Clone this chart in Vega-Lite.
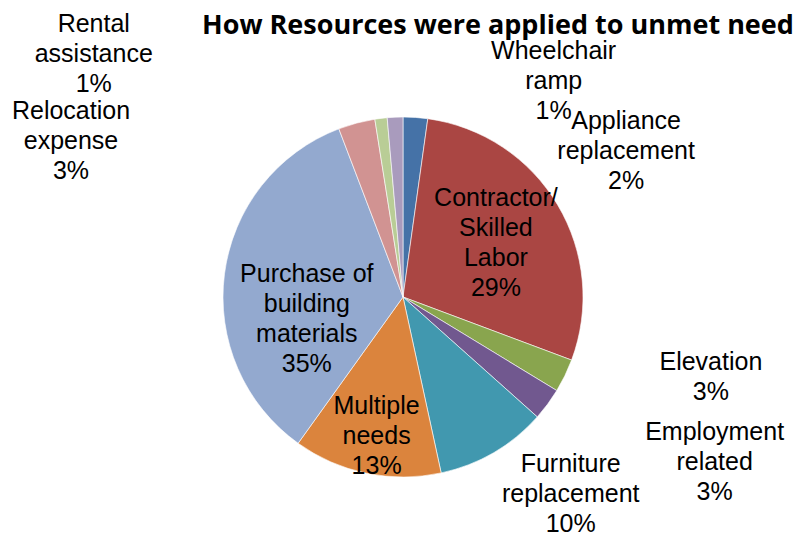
{
  "$schema": "https://vega.github.io/schema/vega-lite/v6.json",
  "autosize": {"type": "none"},
  "padding": {"left": 11, "top": 57, "right": 0, "bottom": 0},
  "width": 784,
  "height": 480,
  "background": "white",
  "title": {
    "text": "How Resources were applied  to unmet need",
    "font": "Open Sans",
    "fontSize": 27,
    "fontWeight": "bold",
    "color": "#000000",
    "anchor": "start",
    "frame": "group",
    "baseline": "alphabetic",
    "offset": 24,
    "dx": 191,
    "dy": 73
  },
  "config": {"view": {"stroke": null}},
  "data": {
    "values": [
      {"cat": "Appliance replacement", "value": 2.2, "label": "Appliance\nreplacement\n2%", "order": 1},
      {"cat": "Contractor/Skilled Labor", "value": 28.5, "label": "Contractor/\nSkilled\nLabor\n29%", "order": 2},
      {"cat": "Elevation", "value": 3.0, "label": "Elevation\n3%", "order": 3},
      {"cat": "Employment related", "value": 2.9, "label": "Employment\nrelated\n3%", "order": 4},
      {"cat": "Furniture replacement", "value": 10.0, "label": "Furniture\nreplacement\n10%", "order": 5},
      {"cat": "Multiple needs", "value": 13.3, "label": "Multiple\nneeds\n13%", "order": 6},
      {"cat": "Purchase of building materials", "value": 34.3, "label": "Purchase of\nbuilding\nmaterials\n35%", "order": 7},
      {"cat": "Relocation expense", "value": 3.3, "label": "Relocation\nexpense\n3%", "order": 8},
      {"cat": "Rental assistance", "value": 1.1, "label": "Rental\nassistance\n1%", "order": 9},
      {"cat": "Wheelchair ramp", "value": 1.4, "label": "Wheelchair\nramp\n1%", "order": 10}
    ]
  },
  "transform": [
    {"window": [{"op": "sum", "field": "value", "as": "cum"}], "sort": [{"field": "order", "order": "ascending"}], "frame": [null, 0]},
    {"calculate": "datum.cum - datum.value / 2", "as": "mid"}
  ],
  "layer": [
    {
      "mark": {"type": "arc", "outerRadius": 180, "stroke": "#ffffff", "strokeWidth": 0.6},
      "encoding": {
        "theta": {"field": "value", "type": "quantitative", "stack": true, "scale": {"domain": [0, 100]}},
        "order": {"field": "order", "type": "quantitative"},
        "color": {
          "field": "cat", "type": "nominal", "legend": null,
          "scale": {
            "domain": ["Appliance replacement", "Contractor/Skilled Labor", "Elevation", "Employment related", "Furniture replacement", "Multiple needs", "Purchase of building materials", "Relocation expense", "Rental assistance", "Wheelchair ramp"],
            "range": ["#4572A7", "#AA4643", "#89A54E", "#71588F", "#4198AF", "#DB843D", "#93A9CF", "#D19392", "#B9CD96", "#A99BBD"]
          }
        }
      }
    },
    {
      "transform": [{"filter": "datum.cat === 'Appliance replacement'"}],
      "mark": {"type": "text", "radius": 190, "dx": 210, "dy": 14, "font": "Liberation Sans", "fontSize": 25, "lineBreak": "\n", "lineHeight": 30, "align": "center", "baseline": "middle", "color": "#000000"},
      "encoding": {"theta": {"field": "mid", "type": "quantitative", "stack": null, "scale": {"domain": [0, 100]}}, "text": {"field": "label"}}
    },
    {
      "transform": [{"filter": "datum.cat === 'Contractor/Skilled Labor'"}],
      "mark": {"type": "text", "radius": 107, "dx": 1, "dy": -44, "font": "Liberation Sans", "fontSize": 25, "lineBreak": "\n", "lineHeight": 30, "align": "center", "baseline": "middle", "color": "#000000"},
      "encoding": {"theta": {"field": "mid", "type": "quantitative", "stack": null, "scale": {"domain": [0, 100]}}, "text": {"field": "label"}}
    },
    {
      "transform": [{"filter": "datum.cat === 'Elevation'"}],
      "mark": {"type": "text", "radius": 190, "dx": 137, "dy": -18, "font": "Liberation Sans", "fontSize": 25, "lineBreak": "\n", "lineHeight": 30, "align": "center", "baseline": "middle", "color": "#000000"},
      "encoding": {"theta": {"field": "mid", "type": "quantitative", "stack": null, "scale": {"domain": [0, 100]}}, "text": {"field": "label"}}
    },
    {
      "transform": [{"filter": "datum.cat === 'Employment related'"}],
      "mark": {"type": "text", "radius": 190, "dx": 159, "dy": 22, "font": "Liberation Sans", "fontSize": 25, "lineBreak": "\n", "lineHeight": 30, "align": "center", "baseline": "middle", "color": "#000000"},
      "encoding": {"theta": {"field": "mid", "type": "quantitative", "stack": null, "scale": {"domain": [0, 100]}}, "text": {"field": "label"}}
    },
    {
      "transform": [{"filter": "datum.cat === 'Furniture replacement'"}],
      "mark": {"type": "text", "radius": 190, "dx": 72, "dy": 3, "font": "Liberation Sans", "fontSize": 25, "lineBreak": "\n", "lineHeight": 30, "align": "center", "baseline": "middle", "color": "#000000"},
      "encoding": {"theta": {"field": "mid", "type": "quantitative", "stack": null, "scale": {"domain": [0, 100]}}, "text": {"field": "label"}}
    },
    {
      "transform": [{"filter": "datum.cat === 'Multiple needs'"}],
      "mark": {"type": "text", "radius": 140, "dx": 2, "dy": -28, "font": "Liberation Sans", "fontSize": 25, "lineBreak": "\n", "lineHeight": 30, "align": "center", "baseline": "middle", "color": "#000000"},
      "encoding": {"theta": {"field": "mid", "type": "quantitative", "stack": null, "scale": {"domain": [0, 100]}}, "text": {"field": "label"}}
    },
    {
      "transform": [{"filter": "datum.cat === 'Purchase of building materials'"}],
      "mark": {"type": "text", "radius": 99, "dx": 2, "dy": -10, "font": "Liberation Sans", "fontSize": 25, "lineBreak": "\n", "lineHeight": 30, "align": "center", "baseline": "middle", "color": "#000000"},
      "encoding": {"theta": {"field": "mid", "type": "quantitative", "stack": null, "scale": {"domain": [0, 100]}}, "text": {"field": "label"}}
    },
    {
      "transform": [{"filter": "datum.cat === 'Relocation expense'"}],
      "mark": {"type": "text", "radius": 190, "dx": -283, "dy": -2, "font": "Liberation Sans", "fontSize": 25, "lineBreak": "\n", "lineHeight": 30, "align": "center", "baseline": "middle", "color": "#000000"},
      "encoding": {"theta": {"field": "mid", "type": "quantitative", "stack": null, "scale": {"domain": [0, 100]}}, "text": {"field": "label"}}
    },
    {
      "transform": [{"filter": "datum.cat === 'Rental assistance'"}],
      "mark": {"type": "text", "radius": 190, "dx": -286, "dy": -84, "font": "Liberation Sans", "fontSize": 25, "lineBreak": "\n", "lineHeight": 30, "align": "center", "baseline": "middle", "color": "#000000"},
      "encoding": {"theta": {"field": "mid", "type": "quantitative", "stack": null, "scale": {"domain": [0, 100]}}, "text": {"field": "label"}}
    },
    {
      "transform": [{"filter": "datum.cat === 'Wheelchair ramp'"}],
      "mark": {"type": "text", "radius": 190, "dx": 159, "dy": -56, "font": "Liberation Sans", "fontSize": 25, "lineBreak": "\n", "lineHeight": 30, "align": "center", "baseline": "middle", "color": "#000000"},
      "encoding": {"theta": {"field": "mid", "type": "quantitative", "stack": null, "scale": {"domain": [0, 100]}}, "text": {"field": "label"}}
    }
  ]
}
